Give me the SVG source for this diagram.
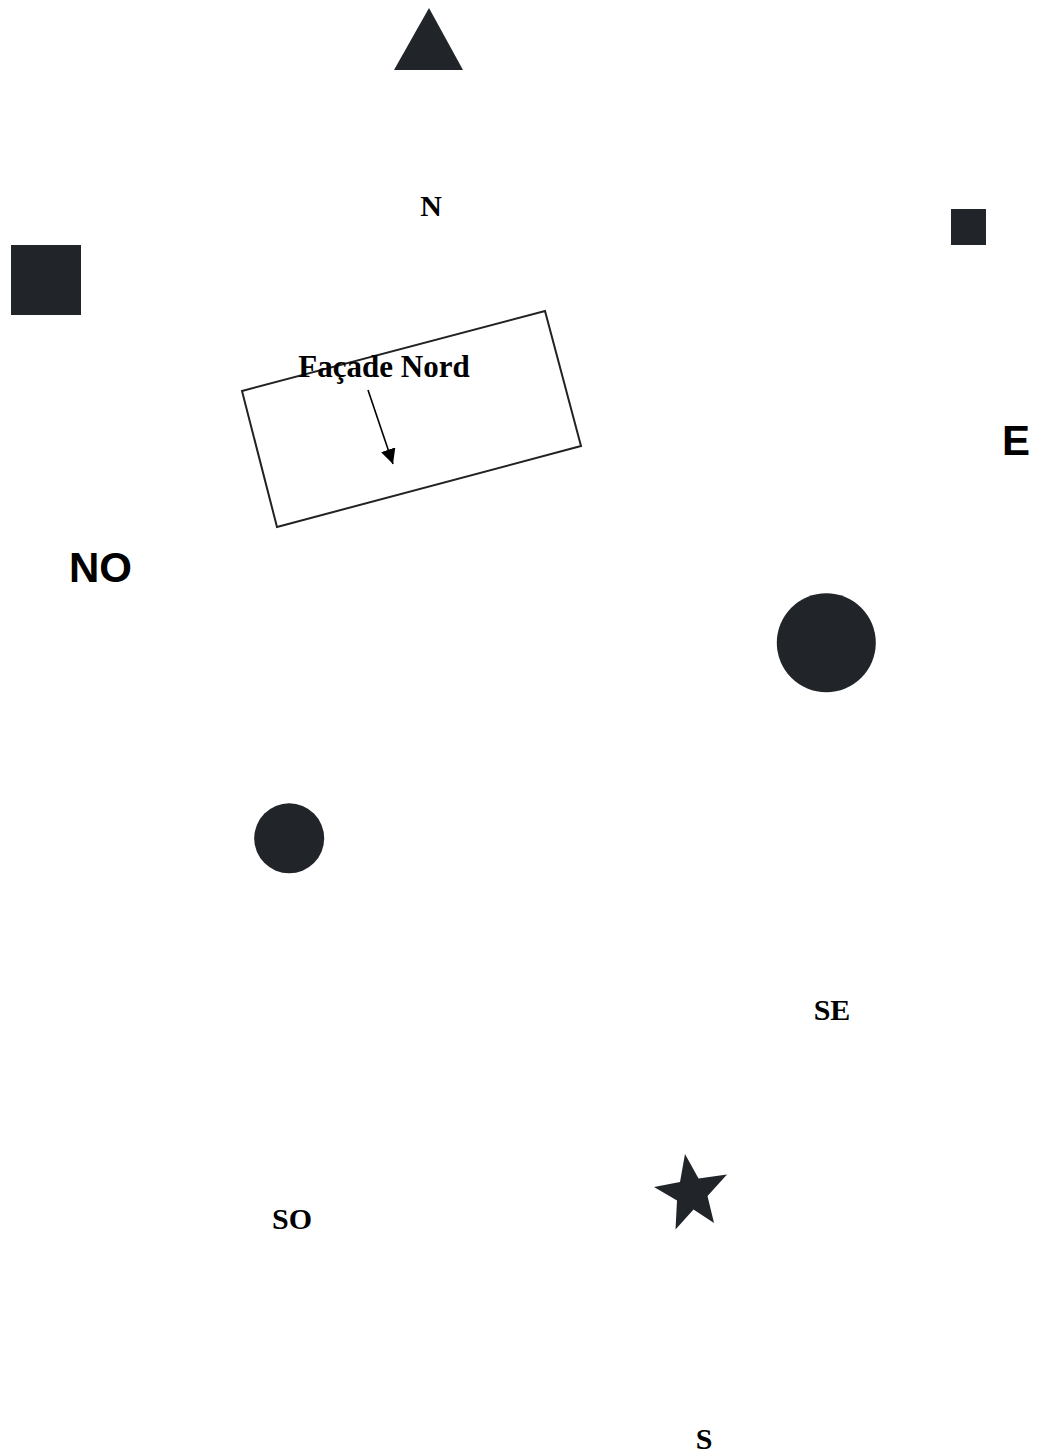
<svg xmlns="http://www.w3.org/2000/svg" width="1037" height="1454" viewBox="0 0 1037 1454">
<style>
.shape{fill:#212529;}
.serif{font-family:"Liberation Serif","Times New Roman",serif;font-weight:bold;fill:#000;text-anchor:middle;}
.sans{font-family:"Liberation Sans",Arial,sans-serif;font-weight:bold;fill:#000;}
.outline{fill:none;stroke:#222;stroke-width:2;}
.conn{stroke:#000;stroke-width:1.6;fill:none;}
</style>
<defs>
<marker id="ah" viewBox="0 0 10 10" refX="10" refY="5" markerWidth="15" markerHeight="15" markerUnits="userSpaceOnUse" orient="auto">
<path d="M0,0 L10,5 L0,10 z" fill="#000"/>
</marker>
</defs>
<rect width="1037" height="1454" fill="#fff"/>
<g id="triangle"><polygon class="shape" points="429,8 463,70 394,70"/></g>
<g id="label-N"><text class="serif" x="431" y="216" font-size="30">N</text></g>
<g id="square-left"><rect class="shape" x="11" y="245" width="70" height="70"/></g>
<g id="square-right"><rect class="shape" x="951" y="209" width="35" height="36"/></g>
<g id="facade"><polygon class="outline" points="242,391 545,311 581,446 277,527"/>
<text class="serif" x="384" y="377" font-size="31">Façade Nord</text></g>
<g id="label-E"><text class="sans" x="1002" y="455" font-size="42">E</text></g>
<g id="label-NO"><text class="sans" x="69" y="582" font-size="42">NO</text></g>
<g id="circle-large"><circle class="shape" cx="826.3" cy="642.8" r="49.5"/></g>
<g id="circle-small"><circle class="shape" cx="289.2" cy="838.3" r="35"/></g>
<g id="label-SE"><text class="serif" x="832" y="1020" font-size="30">SE</text></g>
<g id="star"><polygon class="shape" points="685,1154 698.5,1178.5 727,1174.5 707.5,1196 714,1223 693.5,1209.5 675.5,1229.5 677,1200.5 654,1187 680,1182"/></g>
<g id="label-SO"><text class="serif" x="292" y="1229" font-size="30">SO</text></g>
<g id="label-S"><text class="serif" x="704" y="1449" font-size="30">S</text></g>
<g id="connectors"><line class="conn" x1="368" y1="390" x2="393" y2="464" marker-end="url(#ah)"/></g>
</svg>
